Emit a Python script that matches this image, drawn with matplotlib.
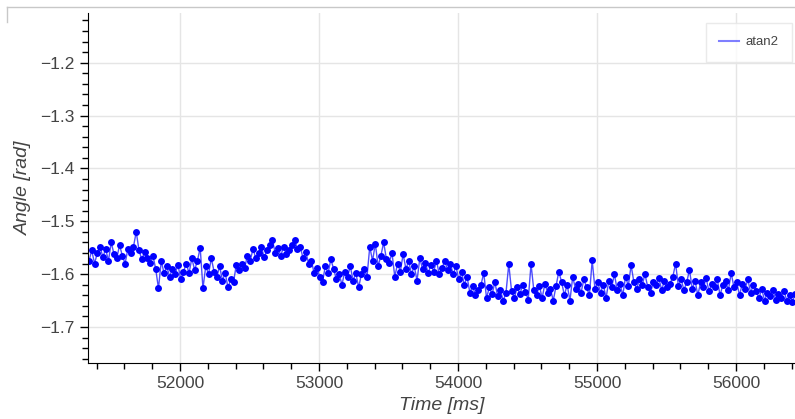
import matplotlib.pyplot as plt
from matplotlib.ticker import MultipleLocator
from matplotlib.lines import Line2D
import numpy as np

plt.rcParams['font.family'] = ['Liberation Sans', 'DejaVu Sans']

# muestreo cada 20 ms
t_inicio = 51345
paso = 20

angulo = [
    -1.575, -1.555, -1.580, -1.560, -1.548, -1.568, -1.552, -1.575, -1.540, -1.562,
    -1.570, -1.545, -1.565, -1.580, -1.552, -1.560, -1.548, -1.520, -1.555, -1.572,
    -1.558, -1.570, -1.578, -1.565, -1.590, -1.627, -1.575, -1.598, -1.585, -1.605,
    -1.590, -1.600, -1.582, -1.610, -1.595, -1.580, -1.598, -1.570, -1.592, -1.575,
    -1.550, -1.627, -1.585, -1.600, -1.570, -1.595, -1.605, -1.585, -1.612, -1.598,
    -1.625, -1.610, -1.615, -1.582, -1.592, -1.580, -1.588, -1.565, -1.575, -1.552,
    -1.570, -1.560, -1.548, -1.568, -1.555, -1.545, -1.536, -1.560, -1.550, -1.565,
    -1.548, -1.562, -1.555, -1.545, -1.536, -1.552, -1.548, -1.570, -1.558, -1.580,
    -1.575, -1.598, -1.588, -1.605, -1.615, -1.585, -1.598, -1.572, -1.590, -1.610,
    -1.600, -1.620, -1.595, -1.605, -1.585, -1.612, -1.598, -1.625, -1.600, -1.590,
    -1.605, -1.548, -1.575, -1.542, -1.585, -1.565, -1.540, -1.572, -1.578, -1.560,
    -1.605, -1.580, -1.595, -1.562, -1.590, -1.575, -1.600, -1.585, -1.612, -1.570,
    -1.590, -1.578, -1.598, -1.582, -1.595, -1.575, -1.600, -1.588, -1.575, -1.592,
    -1.580, -1.600, -1.585, -1.610, -1.595, -1.620, -1.605, -1.635, -1.622, -1.640,
    -1.630, -1.620, -1.598, -1.645, -1.625, -1.638, -1.615, -1.642, -1.630, -1.650,
    -1.635, -1.581, -1.632, -1.645, -1.625, -1.638, -1.620, -1.633, -1.648, -1.581,
    -1.630, -1.640, -1.622, -1.645, -1.618, -1.636, -1.628, -1.650, -1.622, -1.595,
    -1.615, -1.640, -1.620, -1.650, -1.605, -1.628, -1.618, -1.635, -1.610, -1.625,
    -1.640, -1.574, -1.628, -1.615, -1.635, -1.620, -1.645, -1.612, -1.625, -1.600,
    -1.630, -1.618, -1.640, -1.605, -1.622, -1.583, -1.615, -1.628, -1.610, -1.620,
    -1.600, -1.625, -1.635, -1.615, -1.620, -1.608, -1.630, -1.612, -1.625, -1.618,
    -1.605, -1.580, -1.622, -1.610, -1.630, -1.615, -1.592, -1.628, -1.612, -1.640,
    -1.615, -1.625, -1.608, -1.632, -1.618, -1.625, -1.610, -1.640, -1.620, -1.612,
    -1.630, -1.598, -1.625, -1.615, -1.640, -1.618, -1.628, -1.610, -1.635, -1.620,
    -1.632, -1.645, -1.628, -1.650, -1.635, -1.642, -1.630, -1.648, -1.638, -1.645,
    -1.632, -1.650, -1.640, -1.652, -1.638,
]
tiempo = t_inicio + paso * np.arange(len(angulo))

gris = '#444444'

fig = plt.figure(figsize=(7.95, 4.19), dpi=100)
ax = fig.add_axes([88 / 795, 56 / 419, 1 - 88 / 795, 350 / 419])

ax.plot(tiempo, angulo, color='blue', lw=1, alpha=0.7)
ax.plot(tiempo, angulo, 'o', color='blue', ms=5, mew=0)

ax.set_xlim(51338, 56424)
ax.set_ylim(-1.768, -1.106)
ax.xaxis.set_major_locator(MultipleLocator(1000))
ax.xaxis.set_minor_locator(MultipleLocator(200))
ax.yaxis.set_major_locator(MultipleLocator(0.1))
ax.yaxis.set_minor_locator(MultipleLocator(0.02))

ax.grid(True, which='major', color='#e5e5e5', lw=1)
ax.set_axisbelow(True)
for lado in ['top', 'right']:
    ax.spines[lado].set_visible(False)
for lado in ['left', 'bottom']:
    ax.spines[lado].set_color('black')
ax.tick_params(which='major', direction='out', length=6, width=1, labelsize=12.5, labelcolor=gris)
ax.tick_params(which='minor', direction='out', length=4, width=1)

ax.set_xlabel('Time [ms]', fontsize=14, style='italic', color=gris, labelpad=4)
ax.set_ylabel('Angle [rad]', fontsize=14, style='italic', color=gris, labelpad=6)

leyenda = [Line2D([0], [0], color='blue', lw=1.5, alpha=0.5)]
ax.legend(leyenda, ['atan2'], loc='upper right', bbox_to_anchor=(792 / 795, 396 / 419),
          bbox_transform=fig.transFigure, borderaxespad=0, fontsize=9.5, frameon=True,
          fancybox=False, edgecolor='#e5e5e5', labelcolor=gris, handlelength=1.5,
          borderpad=1.0, handletextpad=0.5)

# borde de la captura
fig.add_artist(Line2D([7 / 795, 1], [412 / 419, 412 / 419], color='#c8c8c8', lw=1))
fig.add_artist(Line2D([7 / 795, 7 / 795], [397 / 419, 412 / 419], color='#c8c8c8', lw=1))

fig.savefig('out.png', dpi=100)
